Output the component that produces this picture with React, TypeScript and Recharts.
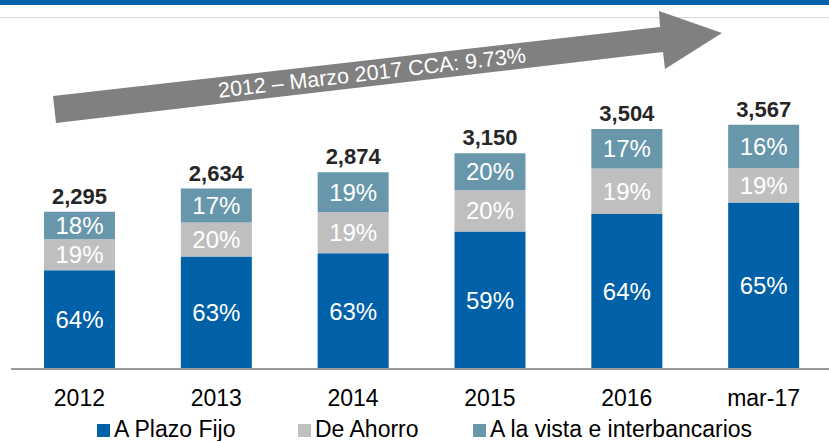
import { BarChart, Bar, XAxis, YAxis, LabelList } from "recharts";

// valores (millones)
const periodos = ["2012", "2013", "2014", "2015", "2016", "mar-17"];
const totales = [2295, 2634, 2874, 3150, 3504, 3567];
// altura de cada segmento, medida sobre las barras
const plazoFijo = [1440, 1643, 1690, 2008, 2263, 2431];
const ahorro = [455, 494, 598, 602, 665, 501];
const vista = [400, 497, 586, 540, 576, 635];
// porcentajes tal como estan rotulados
const pctPlazoFijo = [64, 63, 63, 59, 64, 65];
const pctAhorro = [19, 20, 19, 20, 19, 19];
const pctVista = [18, 17, 19, 20, 17, 16];

const AZUL = "#0060A8";
const GRIS = "#BFBFBF";
const VERDE_AZUL = "#6897AC";
const FONT = "'Liberation Sans', Arial, sans-serif";

const data = periodos.map((p, i) => ({
  periodo: p,
  total: totales[i],
  plazo: plazoFijo[i],
  ahorro: ahorro[i],
  vista: vista[i],
  pPlazo: pctPlazoFijo[i],
  pAhorro: pctAhorro[i],
  pVista: pctVista[i],
}));

const leyenda = [
  { nombre: "A Plazo Fijo", color: AZUL, left: 97 },
  { nombre: "De Ahorro", color: GRIS, left: 298 },
  { nombre: "A la vista e interbancarios", color: VERDE_AZUL, left: 473 },
];

const pct = (v: any) => `${v}%`;
const pctLabel = { fill: "#ffffff", fontSize: 24, fontFamily: FONT };

export default function App() {
  return (
    <div
      style={{
        position: "absolute",
        top: 0,
        left: 0,
        width: 829,
        height: 441,
        overflow: "hidden",
        background: "#fff",
        fontFamily: FONT,
      }}
    >
      {/* banda superior */}
      <div style={{ position: "absolute", top: 0, left: 0, width: 829, height: 5, background: AZUL }} />
      <div style={{ position: "absolute", top: 17, left: 0, width: 829, height: 1, background: "#D9D9D9" }} />

      <BarChart
        width={832}
        height={441}
        data={data}
        margin={{ top: 95, right: 0, left: 11, bottom: 0 }}
        barCategoryGap={0}
      >
        <XAxis
          dataKey="periodo"
          height={72}
          tickLine={false}
          axisLine={{ stroke: "#999999", strokeWidth: 2 }}
          tickMargin={15}
          tick={{ fill: "#000", fontSize: 23, fontFamily: FONT }}
          interval={0}
        />
        <YAxis hide domain={[0, 4000]} />
        <Bar dataKey="plazo" stackId="a" fill={AZUL} barSize={71} isAnimationActive={false}>
          <LabelList dataKey="pPlazo" position="center" formatter={pct} style={pctLabel} />
        </Bar>
        <Bar dataKey="ahorro" stackId="a" fill={GRIS} barSize={71} isAnimationActive={false}>
          <LabelList dataKey="pAhorro" position="center" formatter={pct} style={pctLabel} />
        </Bar>
        <Bar dataKey="vista" stackId="a" fill={VERDE_AZUL} barSize={71} isAnimationActive={false}>
          <LabelList dataKey="pVista" position="center" formatter={pct} style={pctLabel} />
          <LabelList
            dataKey="total"
            position="top"
            offset={8}
            formatter={(v: any) => Number(v).toLocaleString("en-US")}
            style={{ fill: "#262626", fontSize: 22, fontWeight: "bold", fontFamily: FONT }}
          />
        </Bar>
      </BarChart>

      {/* flecha de crecimiento */}
      <svg
        width={829}
        height={441}
        style={{ position: "absolute", top: 0, left: 0, pointerEvents: "none" }}
      >
        <polygon
          points="53,96 660,27 659,11 722,33 665,69 663,52 56,123"
          fill="#808080"
        />
        <text
          x={372}
          y={73}
          transform="rotate(-6.58 372 73)"
          textAnchor="middle"
          dominantBaseline="central"
          fill="#ffffff"
          fontSize={21.5}
          fontFamily={FONT}
        >
          2012 – Marzo 2017 CCA: 9.73%
        </text>
      </svg>

      {leyenda.map((l) => (
        <div
          key={l.nombre}
          style={{
            position: "absolute",
            left: l.left,
            top: 416,
            display: "flex",
            alignItems: "center",
            fontSize: 23,
            color: "#000",
            lineHeight: "27px",
            whiteSpace: "nowrap",
          }}
        >
          <span style={{ width: 13, height: 13, background: l.color, marginRight: 4, marginTop: 1 }} />
          {l.nombre}
        </div>
      ))}
    </div>
  );
}
